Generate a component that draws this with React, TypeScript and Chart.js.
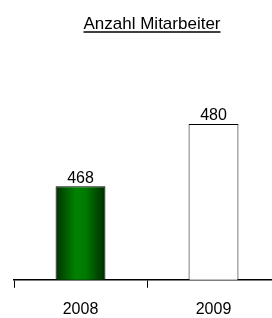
import React, { useEffect, useRef } from "react";
import { Chart, registerables } from "chart.js";

Chart.register(...registerables);

const titleText = "Anzahl Mitarbeiter";
const categories = ["2008", "2009"];
const employees = [468, 480];
const yMin = 450;
const yMax = 500;

const FONT = "'Liberation Sans', Arial, sans-serif";
const BAR_PCT = 0.375;

const titlePlugin = {
  id: "underlinedTitle",
  afterDraw(chart: any) {
    const c = chart.ctx;
    c.save();
    c.font = `17px ${FONT}`;
    c.fillStyle = "#000";
    c.textAlign = "center";
    c.textBaseline = "alphabetic";
    const x = 152;
    const y = 29;
    c.fillText(titleText, x, y);
    const w = c.measureText(titleText).width;
    c.strokeStyle = "#000";
    c.lineWidth = 1.5;
    c.beginPath();
    c.moveTo(x - w / 2, 32);
    c.lineTo(x + w / 2, 32);
    c.stroke();
    c.restore();
  },
};

const valueLabelPlugin = {
  id: "valueLabels",
  afterDatasetsDraw(chart: any) {
    const c = chart.ctx;
    const meta = chart.getDatasetMeta(0);
    c.save();
    c.font = `16px ${FONT}`;
    c.fillStyle = "#000";
    c.textAlign = "center";
    c.textBaseline = "alphabetic";
    meta.data.forEach((bar: any, i: number) => {
      c.fillText(String(employees[i]), bar.x, bar.y - 3.5);
    });
    c.restore();
  },
};

export default function App() {
  const ref = useRef<HTMLCanvasElement | null>(null);

  useEffect(() => {
    if (!ref.current) return;
    const chart = new Chart(ref.current, {
      type: "bar",
      data: {
        labels: categories,
        datasets: [
          {
            data: employees,
            backgroundColor: (ctx: any) => {
              if (ctx.dataIndex !== 0) return "#ffffff";
              const ch = ctx.chart;
              const xs = ch.scales && ch.scales.x;
              if (!ch.chartArea || !xs) return "#006600";
              const cx = xs.getPixelForValue(ctx.dataIndex);
              const w = (xs.width / categories.length) * BAR_PCT;
              const g = ch.ctx.createLinearGradient(cx - w / 2, 0, cx + w / 2, 0);
              g.addColorStop(0, "#003300");
              g.addColorStop(0.4, "#008200");
              g.addColorStop(0.6, "#007a00");
              g.addColorStop(1, "#002a00");
              return g;
            },
            borderColor: "#000000",
            borderWidth: 1,
            borderSkipped: false,
            categoryPercentage: 1,
            barPercentage: BAR_PCT,
          },
        ],
      },
      options: {
        animation: false,
        responsive: false,
        devicePixelRatio: 1,
        layout: { padding: { left: 14, right: 20, top: 20, bottom: 1 } },
        plugins: {
          legend: { display: false },
          title: { display: false },
          tooltip: { enabled: false },
        },
        scales: {
          x: {
            offset: true,
            grid: {
              display: true,
              offset: true,
              drawOnChartArea: false,
              drawTicks: true,
              tickLength: 8,
              color: "#000",
              lineWidth: 1,
            },
            border: { display: true, color: "#000", width: 1.5 },
            ticks: {
              color: "#000",
              padding: 12,
              font: { family: FONT, size: 16 },
            },
          },
          y: {
            display: false,
            min: yMin,
            max: yMax,
          },
        },
      },
      plugins: [titlePlugin, valueLabelPlugin],
    });
    return () => chart.destroy();
  }, []);

  return (
    <div
      style={{
        position: "fixed",
        left: 0,
        top: 0,
        width: 272,
        height: 318,
        overflow: "hidden",
        background: "#fff",
      }}
    >
      <canvas ref={ref} width={300} height={332} style={{ display: "block" }} />
    </div>
  );
}
